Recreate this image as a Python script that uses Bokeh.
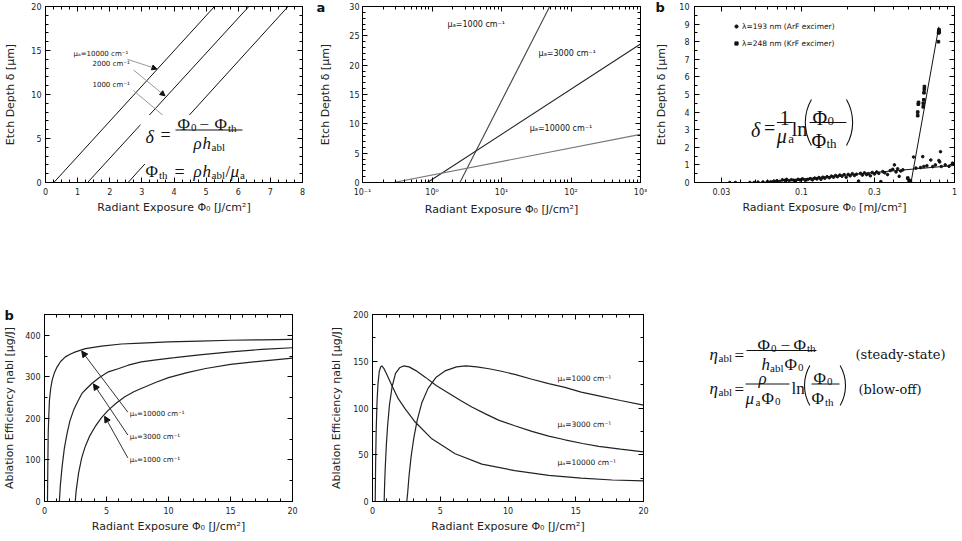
import math
from bokeh.plotting import figure
from bokeh.models import (Range1d, LinearAxis, LogAxis, SingleIntervalTicker, FixedTicker,
                          CustomJSTickFormatter, Label, Arrow, NormalHead, Legend, LegendItem)
from bokeh.layouts import row, column
from bokeh.embed import file_html
from bokeh.resources import INLINE

# ---------------- data ----------------
# top-left: etch depth vs radiant exposure (linear)
lin_mu = ["10000", "2000", "1000"]
lin_phi = [[0.26, 5.26], [1.31, 6.33], [2.57, 7.55]]
lin_depth = [[0.0, 20.0], [0.0, 20.0], [0.0, 20.0]]

# top-middle: etch depth vs radiant exposure (log)
log_mu = ["1000", "3000", "10000"]
log_phi = [[2.52, 49.4], [0.86, 1000.0], [0.28, 1000.0]]
log_depth = [[0.0, 30.0], [0.0, 23.6], [0.0, 8.2]]

# top-right: measured etch depths
arf_phi = [0.034, 0.037, 0.046, 0.049, 0.052, 0.056, 0.060, 0.063, 0.066, 0.069, 0.072, 0.075,
           0.078, 0.080, 0.083, 0.086, 0.089, 0.092, 0.095, 0.098, 0.102, 0.106, 0.110, 0.114,
           0.118, 0.122, 0.126, 0.130, 0.134, 0.138, 0.142, 0.147, 0.152, 0.157, 0.162, 0.167,
           0.172, 0.178, 0.184, 0.190, 0.196, 0.202, 0.208, 0.215, 0.222, 0.229, 0.236, 0.243,
           0.250, 0.258, 0.266, 0.274, 0.282, 0.290, 0.300, 0.310, 0.320, 0.330, 0.340, 0.350,
           0.365, 0.380, 0.395, 0.405, 0.415, 0.425, 0.435, 0.445, 0.460, 0.540, 0.560, 0.600,
           0.620, 0.630, 0.660, 0.700, 0.720, 0.750, 0.790, 0.800, 0.810, 0.820, 0.870, 0.920,
           0.970, 0.990]
arf_depth = [0.0, 0.0, 0.0, 0.0, 0.02, 0.03, 0.05, 0.04, 0.08, 0.10, 0.06, 0.15,
             0.12, 0.18, 0.10, 0.16, 0.13, 0.12, 0.18, 0.14, 0.20, 0.12, 0.17, 0.22,
             0.15, 0.25, 0.20, 0.28, 0.18, 0.30, 0.24, 0.33, 0.27, 0.36, 0.30, 0.40,
             0.33, 0.42, 0.36, 0.45, 0.30, 0.46, 0.38, 0.50, 0.40, 0.47, 0.08, 0.52,
             0.42, 0.55, 0.45, 0.50, 0.38, 0.57, 0.48, 0.60, 0.52, 0.05, 0.62, 0.55,
             0.45, 0.68, 0.75, 1.00, 0.60, 0.78, 0.35, 0.65, 0.72, 1.45, 0.82, 0.85,
             1.47, 0.91, 0.95, 1.28, 0.90, 1.00, 1.25, 1.17, 1.75, 0.91, 1.00, 0.92,
             1.10, 1.05]
krf_phi = [0.495, 0.505, 0.515, 0.575, 0.575, 0.580, 0.582, 0.625, 0.625, 0.630, 0.632, 0.635,
           0.636, 0.785, 0.787, 0.790, 0.792, 0.795]
krf_depth = [0.25, 0.12, 0.06, 3.80, 4.00, 4.45, 4.55, 4.30, 4.50, 4.70, 5.10, 5.30,
             5.45, 8.00, 8.50, 8.60, 8.68, 8.55]
fit_arf_phi = [0.055, 1.0]
fit_arf_depth = [0.0, 0.97]
fit_krf_phi = [0.52, 0.79]
fit_krf_depth = [0.0, 8.85]

# bottom-left: ablation efficiency, steady state
ss_phi_10000 = [0.24, 0.27, 0.30, 0.35, 0.40, 0.50, 0.62, 0.80, 1.02, 1.30, 1.68, 2.10, 2.50, 3.30,
                4.60, 6.20, 7.80, 10.0, 12.5, 15.0, 17.5, 20.0]
ss_eta_10000 = [0, 90, 164, 210, 244, 272, 292, 310, 324, 337, 348, 355, 360, 368,
                374, 379, 381, 384, 386, 388, 389, 390]
ss_phi_3000 = [1.20, 1.28, 1.42, 1.60, 1.82, 2.05, 2.35, 2.70, 3.02, 3.40, 3.82, 4.40, 5.15, 6.00,
               6.75, 7.80, 9.00, 10.5, 12.5, 15.0, 17.5, 20.0]
ss_eta_3000 = [0, 40, 84, 128, 164, 194, 220, 242, 260, 272, 284, 298, 312, 320,
               328, 336, 341, 346, 353, 360, 366, 370]
ss_phi_1000 = [2.48, 2.55, 2.75, 3.00, 3.28, 3.65, 4.08, 4.60, 5.15, 5.80, 6.48, 7.20, 7.80, 9.00,
               10.0, 11.5, 13.0, 15.0, 17.5, 20.0]
ss_eta_1000 = [0, 25, 69, 105, 132, 158, 180, 202, 220, 237, 252, 264, 272, 287,
               298, 310, 320, 330, 338, 345]

# bottom-middle: ablation efficiency, blow-off
bo_phi_10000 = [0.20, 0.23, 0.27, 0.33, 0.40, 0.50, 0.60, 0.69, 0.85, 1.05, 1.43, 1.90, 2.41, 3.15,
                4.38, 6.10, 8.07, 10.5, 13.0, 15.4, 17.7, 20.0]
bo_eta_10000 = [0, 40, 75, 105, 125, 139, 144, 145, 142, 136, 124, 110, 99, 85,
                67, 51, 40, 33, 28, 25, 23, 22]
bo_phi_3000 = [0.86, 0.90, 0.95, 1.02, 1.12, 1.25, 1.45, 1.70, 2.00, 2.29, 2.70, 3.20, 3.89, 4.70,
               5.60, 6.50, 7.33, 8.30, 9.30, 10.5, 11.76, 13.0, 14.2, 15.5, 16.7, 18.3, 20.0]
bo_eta_3000 = [0, 21, 39, 60, 82, 103, 123, 137, 143, 145, 144, 140, 133, 124,
               116, 108, 101, 94, 87, 81, 75, 70, 66, 62, 59, 56, 53]
bo_phi_1000 = [2.53, 2.60, 2.70, 2.85, 3.05, 3.30, 3.65, 4.10, 4.70, 5.40, 6.20, 6.90, 7.70, 8.60,
               9.60, 10.5, 11.7, 13.0, 14.2, 15.4, 16.7, 18.3, 20.0]
bo_eta_1000 = [0, 10, 28, 48, 68, 87, 106, 121, 133, 140, 144, 145, 144, 142,
               139, 136, 131, 126, 122, 117, 113, 108, 103]

X_TITLE = "Radiant Exposure \u03a6\u2080 [J/cm\u00b2]"
SANS = "DejaVu Sans"
SERIF = "Liberation Serif"
INK = "#111111"

# --------------- helpers ---------------
def setup(p, xt, yt, xlabel, ylabel, log_x=False, xfmt=None, y_std=4, y_title_std=10):
    p.grid.visible = False
    p.outline_line_color = "black"
    p.outline_line_width = 1
    p.background_fill_color = "white"
    p.border_fill_color = "white"
    bx = p.below[0]
    ly = p.left[0]
    bx.ticker = xt
    ly.ticker = yt
    if xfmt is not None:
        bx.formatter = xfmt
    bx.axis_label = xlabel
    ly.axis_label = ylabel
    top = (LogAxis if log_x else LinearAxis)(ticker=xt, formatter=CustomJSTickFormatter(code="return '';"))
    right = LinearAxis(ticker=yt, formatter=CustomJSTickFormatter(code="return '';"))
    p.add_layout(top, "above")
    p.add_layout(right, "right")
    for ax in (bx, ly, top, right):
        ax.axis_line_color = "black"
        ax.major_tick_in = 5
        ax.major_tick_out = 0
        ax.minor_tick_in = 3
        ax.minor_tick_out = 0
        ax.major_tick_line_color = "black"
        ax.minor_tick_line_color = "black"
        ax.major_label_text_font = SANS
        ax.major_label_text_font_size = "8px"
        ax.major_label_text_color = "#222222"
        ax.axis_label_text_font = SANS
        ax.axis_label_text_font_size = "11px"
        ax.axis_label_text_font_style = "normal"
        ax.axis_label_text_color = "#222222"
    for ax in (top, right):
        ax.major_label_text_font_size = "1px"
        ax.major_label_standoff = 0
    bx.major_label_standoff = 5
    bx.axis_label_standoff = 3
    ly.major_label_standoff = y_std
    ly.axis_label_standoff = y_title_std


def panel_letter(p, letter, offset, standoff=-17):
    p.title.text = letter
    p.title.align = "left"
    p.title.offset = offset
    p.title.standoff = standoff
    p.title.vertical_align = "bottom"
    p.title.text_font = SANS
    p.title.text_font_size = "13px"
    p.title.text_font_style = "bold"
    p.title.text_color = INK


def txt(p, m, px, py, text, size, italic=False, font=SERIF, color=INK):
    x, y = m(px, py)
    p.add_layout(Label(x=x, y=y, text=text, text_font=font, text_font_size=f"{size}px",
                       text_font_style="italic" if italic else "normal", text_color=color,
                       text_baseline="alphabetic", text_align="left"))


def bar(p, m, px0, px1, py):
    x0, y0 = m(px0, py)
    x1, y1 = m(px1, py)
    p.segment(x0=[x0], y0=[y0], x1=[x1], y1=[y1], line_color=INK, line_width=1)


def parens(p, m, pl, pr, py, R):
    cx, cy = m(pl + R, py)
    p.arc(x=[cx], y=[cy], radius=R, radius_units="screen", start_angle=math.radians(150),
          end_angle=math.radians(210), line_color=INK, line_width=1.1)
    cx, cy = m(pr - R, py)
    p.arc(x=[cx], y=[cy], radius=R, radius_units="screen", start_angle=math.radians(-30),
          end_angle=math.radians(30), line_color=INK, line_width=1.1)


# page pixel -> data helpers (positions of annotations only); frames: top row y 6..182, bottom row y 314..501
def m1(px, py):
    return ((px - 45) / 257 * 8, (182 - py) / 176 * 20)

def m2(px, py):
    return (10 ** (-1 + (px - 359) / 281 * 4), (182 - py) / 176 * 30)

def m3(px, py):
    return (10 ** (-1.69897 + (px - 692) / 262 * 1.69897), (182 - py) / 176 * 10)

def m4(px, py):
    return ((px - 42) / 250 * 20, (501 - py) / 187 * 450)

def m5(px, py):
    return ((px - 372) / 271 * 20, (501 - py) / 187 * 200)

def m6(px, py):
    return (px - 660, 501 - py)


TOP_H = 219
BOT_H = 320
common = dict(output_backend="svg", toolbar_location=None)

# ---------------- panel 1 ----------------
f1 = figure(width=316, height=TOP_H, x_range=Range1d(0, 8), y_range=Range1d(0, 20),
            min_border_left=45, min_border_right=14, min_border_top=6, min_border_bottom=37, **common)
setup(f1, SingleIntervalTicker(interval=1, num_minor_ticks=4),
      SingleIntervalTicker(interval=5, num_minor_ticks=5),
      X_TITLE, "Etch Depth \u03b4 [\u03bcm]", y_std=4, y_title_std=11)
for xs, ys in zip(lin_phi, lin_depth):
    f1.line(xs, ys, line_color=INK, line_width=1)
f1.segment(x0=[2.74], y0=[10.44], x1=[3.80], y1=[7.2], line_color="#999999", line_width=1)
f1.quad(left=[2.957], right=[6.54], bottom=[2.11], top=[7.67], fill_color="white", line_color=None)
for (x0, y0, x1, y1) in [(2.55, 14.0, 3.47, 12.9), (2.74, 12.78, 3.72, 9.85)]:
    f1.add_layout(Arrow(end=NormalHead(size=5, fill_color=INK, line_color=INK),
                        x_start=x0, y_start=y0, x_end=x1, y_end=y1,
                        line_color="#999999", line_width=1))
x, y = m1(73, 57.5)
f1.add_layout(Label(x=x, y=y, text="\u03bc\u2090=" + lin_mu[0] + " cm\u207b\u00b9", text_font=SANS,
                    text_font_size="7px", text_color=INK))
x, y = m1(92, 67)
f1.add_layout(Label(x=x, y=y, text=lin_mu[1] + " cm\u207b\u00b9", text_font=SANS,
                    text_font_size="7px", text_color=INK))
x, y = m1(92, 88.5)
f1.add_layout(Label(x=x, y=y, text=lin_mu[2] + " cm\u207b\u00b9", text_font=SANS,
                    text_font_size="7px", text_color=INK))
txt(f1, m1, 145, 136, "\u03b4", 18, italic=True)
txt(f1, m1, 160, 134, "=", 18)
bar(f1, m1, 175, 242, 129.5)
txt(f1, m1, 177, 124, "\u03a6", 17)
txt(f1, m1, 190.5, 127, "0", 11)
txt(f1, m1, 199, 124, "\u2212", 17)
txt(f1, m1, 214, 124, "\u03a6", 17)
txt(f1, m1, 227.5, 127, "th", 11)
txt(f1, m1, 193, 143, "\u03c1", 17, italic=True)
txt(f1, m1, 202, 143, "h", 17, italic=True)
txt(f1, m1, 211, 146, "abl", 11)
txt(f1, m1, 145, 171, "\u03a6", 17)
txt(f1, m1, 158.5, 174, "th", 11)
txt(f1, m1, 174, 171, "=", 18)
txt(f1, m1, 193, 171, "\u03c1", 17, italic=True)
txt(f1, m1, 202, 171, "h", 17, italic=True)
txt(f1, m1, 211, 174, "abl", 11)
txt(f1, m1, 225, 171, "/", 17)
txt(f1, m1, 230, 171, "\u03bc", 17, italic=True)
txt(f1, m1, 239.5, 174, "a", 11)

# ---------------- panel 2 ----------------
sup_fmt = CustomJSTickFormatter(code="""
const e = Math.round(Math.log10(tick));
const sup = {"-": "\u207b", "0": "\u2070", "1": "\u00b9", "2": "\u00b2", "3": "\u00b3",
             "4": "\u2074", "5": "\u2075", "6": "\u2076", "7": "\u2077", "8": "\u2078", "9": "\u2079"};
return "10" + String(e).split("").map(c => sup[c]).join("");
""")
minor2 = [k * 10.0 ** e for e in (-1, 0, 1, 2) for k in range(2, 10)]
f2 = figure(width=336, height=TOP_H, x_axis_type="log", x_range=Range1d(0.1, 1000),
            y_range=Range1d(0, 30), min_border_left=43, min_border_right=12,
            min_border_top=6, min_border_bottom=37, **common)
setup(f2, FixedTicker(ticks=[0.1, 1, 10, 100, 1000], minor_ticks=minor2),
      SingleIntervalTicker(interval=5, num_minor_ticks=5),
      X_TITLE, "Etch Depth \u03b4 [\u03bcm]", log_x=True, xfmt=sup_fmt, y_std=3, y_title_std=14)
panel_letter(f2, "a", -46)
for xs, ys, c in zip(log_phi, log_depth, ["#444444", "#222222", "#777777"]):
    f2.line(xs, ys, line_color=c, line_width=1.1)
for (px, py), mu in zip([(445, 28), (537, 57), (528, 132)], log_mu):
    x, y = m2(px, py)
    f2.add_layout(Label(x=x, y=y, text="\u03bc\u2090=" + mu + " cm\u207b\u00b9", text_font=SANS,
                        text_font_size="8px", text_color=INK))

# ---------------- panel 3 ----------------
f3 = figure(width=309, height=TOP_H, x_axis_type="log", x_range=Range1d(0.02, 1),
            y_range=Range1d(0, 10), min_border_left=40, min_border_right=7,
            min_border_top=6, min_border_bottom=37, **common)
setup(f3, FixedTicker(ticks=[0.03, 0.1, 0.3, 1],
                      minor_ticks=[0.02, 0.04, 0.05, 0.06, 0.07, 0.08, 0.09, 0.2, 0.4, 0.5, 0.6, 0.7, 0.8, 0.9]),
      SingleIntervalTicker(interval=1, num_minor_ticks=2),
      "Radiant Exposure \u03a6\u2080 [mJ/cm\u00b2]", "Etch Depth \u03b4 [\u03bcm]", log_x=True,
      xfmt=CustomJSTickFormatter(code="return String(tick);"), y_std=5, y_title_std=8)
panel_letter(f3, "b", -39)
f3.line(fit_arf_phi, fit_arf_depth, line_color=INK, line_width=1)
f3.line(fit_krf_phi, fit_krf_depth, line_color=INK, line_width=1)
r_arf = f3.scatter(arf_phi, arf_depth, marker="circle", size=2.6, fill_color=INK, line_color=INK)
r_krf = f3.scatter(krf_phi, krf_depth, marker="square", size=2.6, fill_color=INK, line_color=INK)
leg = Legend(items=[LegendItem(label="\u03bb=193 nm (ArF excimer)", renderers=[r_arf]),
                    LegendItem(label="\u03bb=248 nm (KrF excimer)", renderers=[r_krf])],
             location=(38, 134), border_line_color=None, background_fill_alpha=0,
             padding=0, margin=0, spacing=7, glyph_width=8, glyph_height=10, label_height=10,
             label_standoff=2, label_text_font=SANS, label_text_font_size="7.5px",
             label_text_color=INK)
f3.add_layout(leg)
txt(f3, m3, 749, 129, "\u03b4", 20, italic=True)
txt(f3, m3, 762, 127, "=", 20)
txt(f3, m3, 778, 117, "1", 20)
bar(f3, m3, 775, 791, 122)
txt(f3, m3, 775, 135, "\u03bc", 20, italic=True)
txt(f3, m3, 786.5, 138, "a", 13)
txt(f3, m3, 790, 128, "ln", 20)
parens(f3, m3, 804, 851, 122, 46)
txt(f3, m3, 811, 117, "\u03a6", 20)
txt(f3, m3, 826, 120, "0", 13)
bar(f3, m3, 808, 845, 122)
txt(f3, m3, 810, 140, "\u03a6", 20)
txt(f3, m3, 825, 143, "th", 13)

# ---------------- panel 4 ----------------
f4 = figure(width=320, height=BOT_H, x_range=Range1d(0, 20), y_range=Range1d(0, 450),
            min_border_left=42, min_border_right=28, min_border_top=95, min_border_bottom=38, **common)
setup(f4, SingleIntervalTicker(interval=5, num_minor_ticks=5),
      SingleIntervalTicker(interval=100, num_minor_ticks=2),
      X_TITLE, "Ablation Efficiency \u03b7abl [\u03bcg/J]", y_std=4, y_title_std=6)
panel_letter(f4, "b", -40)
for xs, ys in [(ss_phi_10000, ss_eta_10000), (ss_phi_3000, ss_eta_3000), (ss_phi_1000, ss_eta_1000)]:
    f4.line(xs, ys, line_color="#222222", line_width=1.2)
for (x0, y0, x1, y1) in [(6.72, 215, 3.0, 362), (6.72, 160, 3.95, 283), (6.72, 105, 4.85, 205)]:
    f4.add_layout(Arrow(end=NormalHead(size=6, fill_color=INK, line_color=INK),
                        x_start=x0, y_start=y0, x_end=x1, y_end=y1,
                        line_color="#333333", line_width=1))
for (px, py), mu in zip([(128, 417), (128, 440), (128, 463)], ["10000", "3000", "1000"]):
    x, y = m4(px, py)
    f4.add_layout(Label(x=x, y=y, text="\u03bc\u2090=" + mu + " cm\u207b\u00b9", text_font=SANS,
                        text_font_size="7px", text_color=INK))

# ---------------- panel 5 ----------------
f5 = figure(width=340, height=BOT_H, x_range=Range1d(0, 20), y_range=Range1d(0, 200),
            min_border_left=52, min_border_right=17, min_border_top=95, min_border_bottom=38, **common)
setup(f5, SingleIntervalTicker(interval=5, num_minor_ticks=5),
      SingleIntervalTicker(interval=50, num_minor_ticks=2),
      X_TITLE, "Ablation Efficiency \u03b7abl [\u03bcg/J]", y_std=4, y_title_std=7)
for xs, ys in [(bo_phi_10000, bo_eta_10000), (bo_phi_3000, bo_eta_3000), (bo_phi_1000, bo_eta_1000)]:
    f5.line(xs, ys, line_color="#222222", line_width=1.2)
for (px, py), mu in zip([(557, 382), (557, 428), (557, 466)], ["1000", "3000", "10000"]):
    x, y = m5(px, py)
    f5.add_layout(Label(x=x, y=y, text="\u03bc\u2090=" + mu + " cm\u207b\u00b9", text_font=SANS,
                        text_font_size="7.5px", text_color=INK))

# ---------------- panel 6 (formulas) ----------------
f6 = figure(width=301, height=BOT_H, x_range=Range1d(0, 301), y_range=Range1d(0, 187),
            x_axis_location=None, y_axis_location=None, min_border_left=0, min_border_right=0,
            min_border_top=95, min_border_bottom=38, **common)
f6.grid.visible = False
f6.outline_line_color = None
txt(f6, m6, 709, 354, "\u03b7", 17, italic=True)
txt(f6, m6, 718, 357, "abl", 11)
txt(f6, m6, 734, 355, "=", 17)
bar(f6, m6, 746, 816, 350)
txt(f6, m6, 757, 345, "\u03a6", 17)
txt(f6, m6, 770.5, 347.5, "0", 11)
txt(f6, m6, 780, 345, "\u2212", 17)
txt(f6, m6, 793, 345, "\u03a6", 17)
txt(f6, m6, 806.5, 347.5, "th", 11)
txt(f6, m6, 761, 364, "h", 17, italic=True)
txt(f6, m6, 769.5, 367, "abl", 11)
txt(f6, m6, 784, 364, "\u03a6", 17)
txt(f6, m6, 797.5, 367, "0", 11)
txt(f6, m6, 855, 354, "(steady-state)", 13, font="DejaVu Serif")
txt(f6, m6, 709, 388, "\u03b7", 17, italic=True)
txt(f6, m6, 718, 391, "abl", 11)
txt(f6, m6, 734, 388.5, "=", 17)
bar(f6, m6, 745, 789, 383.5)
txt(f6, m6, 758, 378, "\u03c1", 17, italic=True)
txt(f6, m6, 745, 398, "\u03bc", 17, italic=True)
txt(f6, m6, 755, 401, "a", 11)
txt(f6, m6, 761, 398, "\u03a6", 17)
txt(f6, m6, 774.5, 401, "0", 11)
txt(f6, m6, 791, 388, "ln", 17)
parens(f6, m6, 804, 845, 385, 40)
txt(f6, m6, 813, 378, "\u03a6", 17)
txt(f6, m6, 826.5, 381, "0", 11)
bar(f6, m6, 811, 839, 383.5)
txt(f6, m6, 811, 398, "\u03a6", 17)
txt(f6, m6, 824.5, 401, "th", 11)
txt(f6, m6, 858, 389, "(blow-off)", 13, font="DejaVu Serif")

layout = column(row(f1, f2, f3), row(f4, f5, f6))
open("out.html", "w", encoding="utf-8").write(file_html(layout, INLINE))
